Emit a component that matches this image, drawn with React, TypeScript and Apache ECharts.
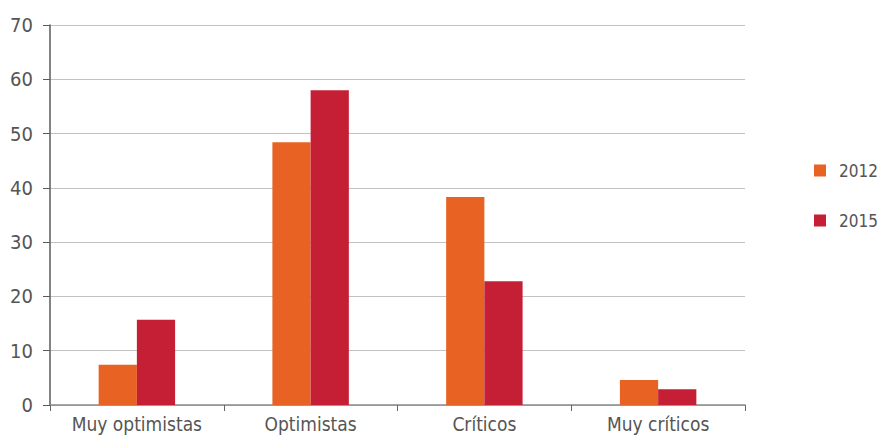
import React, { useEffect, useRef } from "react";
import * as echarts from "echarts";

const categories = ["Muy optimistas", "Optimistas", "Críticos", "Muy críticos"];
const values2012 = [7.4, 48.4, 38.3, 4.6];
const values2015 = [15.7, 58.0, 22.8, 2.9];
const seriesNames = ["2012", "2015"];

const FONT = "'Liberation Sans Narrow', 'DejaVu Sans Condensed', 'Roboto', sans-serif";

export default function App() {
  const ref = useRef<HTMLDivElement>(null);
  useEffect(() => {
    if (!ref.current) return;
    const chart = echarts.init(ref.current, undefined, { renderer: "svg" });
    chart.setOption({
      animation: false,
      textStyle: { fontFamily: FONT },
      grid: { left: 50, right: 135, top: 25, bottom: 31, containLabel: false },
      legend: {
        orient: "vertical",
        left: 814,
        top: 162,
        padding: 0,
        itemWidth: 12,
        itemHeight: 12,
        itemGap: 33,
        icon: "rect",
        textStyle: { color: "#555", fontSize: 17, fontFamily: FONT, padding: [0, 0, 0, 8] },
        data: seriesNames,
      },
      xAxis: {
        type: "category",
        data: categories,
        axisLine: { lineStyle: { color: "#8a8a8a", width: 1.5 } },
        axisTick: { show: true, length: 6, lineStyle: { color: "#666" } },
        axisLabel: { color: "#555", fontSize: 19, fontFamily: FONT, margin: 9 },
      },
      yAxis: {
        type: "value",
        min: 0,
        max: 70,
        interval: 10,
        axisLine: { show: true, lineStyle: { color: "#5a5a5a", width: 1.5 } },
        axisTick: { show: true, length: 7, lineStyle: { color: "#5a5a5a" } },
        axisLabel: { color: "#555", fontSize: 20, fontFamily: FONT, margin: 17 },
        splitLine: { lineStyle: { color: "#c2c2c2", width: 1.2 } },
      },
      series: [
        {
          name: seriesNames[0],
          type: "bar",
          data: values2012,
          barGap: "0%",
          barCategoryGap: "56%",
          itemStyle: { color: "#E86223" },
        },
        {
          name: seriesNames[1],
          type: "bar",
          data: values2015,
          barGap: "0%",
          barCategoryGap: "56%",
          itemStyle: { color: "#C41F35" },
        },
      ],
    });
    return () => chart.dispose();
  }, []);
  return <div ref={ref} style={{ width: 880, height: 436, position: "absolute", left: 0, top: 0 }} />;
}
